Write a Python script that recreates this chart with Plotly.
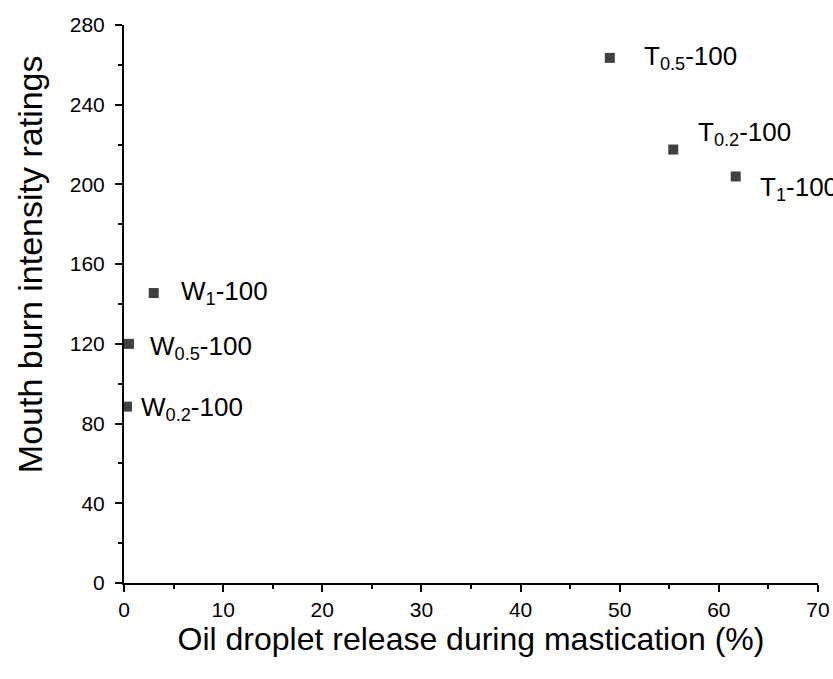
import plotly.graph_objects as go

labels = ["T<sub>0.5</sub>-100", "T<sub>0.2</sub>-100", "T<sub>1</sub>-100",
          "W<sub>1</sub>-100", "W<sub>0.5</sub>-100", "W<sub>0.2</sub>-100"]
oil_release = [49.0, 55.4, 61.7, 3.0, 0.5, 0.3]
burn_rating = [263.5, 217.5, 204.0, 145.5, 120.0, 88.5]
label_xshift = [32, 23, 22, 25, 19, 12]
label_yshift = [0, 16, -12, 1, -4, -2]

x_title = "Oil droplet release during mastication (%)"
y_title = "Mouth burn intensity ratings"

FONT = "Arial, Liberation Sans, sans-serif"

fig = go.Figure()
fig.add_trace(go.Scatter(
    x=oil_release, y=burn_rating, mode="markers",
    marker=dict(symbol="square", size=10, color="#404040"),
    cliponaxis=False, showlegend=False,
))

for xv, yv, t, xs, ys in zip(oil_release, burn_rating, labels, label_xshift, label_yshift):
    fig.add_annotation(x=xv, y=yv, text=t, showarrow=False, xanchor="left",
                       yanchor="middle", xshift=xs, yshift=ys,
                       font=dict(family=FONT, size=26, color="black"))

# y-axis title placed as rotated text (positioned like the reference)
fig.add_annotation(xref="paper", yref="paper", x=-0.135, y=0.572, text=y_title,
                   textangle=-90, showarrow=False, xanchor="center", yanchor="middle",
                   font=dict(family=FONT, size=34, color="black"))

axis_common = dict(
    showline=True, linecolor="black", linewidth=2, mirror=False,
    ticks="outside", ticklen=7, tickwidth=2, tickcolor="black",
    showgrid=False, zeroline=False, automargin=False,
    tickfont=dict(family=FONT, size=21, color="black"),
)

fig.update_xaxes(range=[0, 70], dtick=10, tick0=0,
                 minor=dict(ticks="outside", ticklen=4, tickwidth=2, tickcolor="black", dtick=5, tick0=0),
                 title=dict(text=x_title, standoff=6,
                            font=dict(family=FONT, size=32, color="black")),
                 **axis_common)
fig.update_yaxes(range=[0, 280], dtick=40, tick0=0,
                 minor=dict(ticks="outside", ticklen=4, tickwidth=2, tickcolor="black", dtick=20, tick0=0),
                 ticklabelstandoff=6,
                 **axis_common)

fig.update_layout(
    width=833, height=679,
    margin=dict(l=124, r=15, t=25, b=96),
    plot_bgcolor="white", paper_bgcolor="white",
)

fig.write_html("out.html")
